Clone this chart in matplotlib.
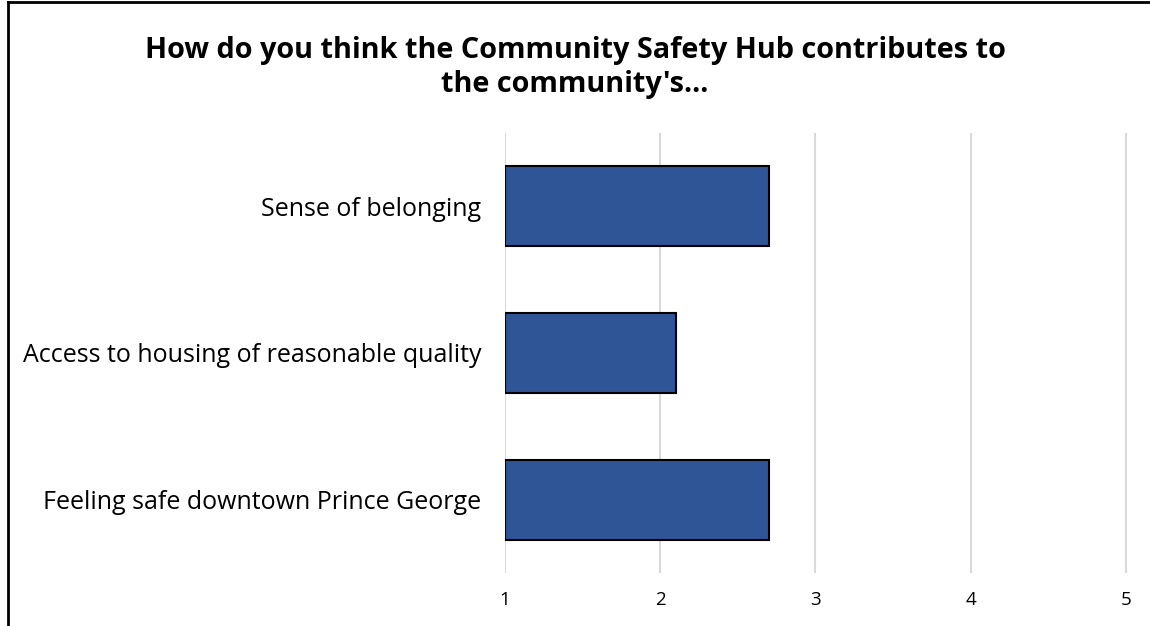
import matplotlib.pyplot as plt
from matplotlib.lines import Line2D

categories = ["Sense of belonging",
              "Access to housing of reasonable quality",
              "Feeling safe downtown Prince George"]
scores = [2.7, 2.1, 2.7]
ticks = [1, 2, 3, 4, 5]
title = "How do you think the Community Safety Hub contributes to\nthe community's..."

plt.rcParams['font.family'] = ['Open Sans', 'DejaVu Sans']

fig = plt.figure(figsize=(11.5, 6.26), dpi=100)
ax = fig.add_axes([0.4391, 0.0847, 0.5426, 0.7029])

ypos = list(range(len(categories)))
# bars start at the scale floor (1), so use left=1 and width=score-1
ax.barh(ypos, [s - 1 for s in scores], left=1, height=0.546,
        color='#2F5597', edgecolor='black', linewidth=1.5, zorder=3)

ax.set_xlim(1, 5.02)
ax.set_ylim(len(categories) - 0.5, -0.5)
ax.set_xticks(ticks)
ax.set_xticklabels([str(t) for t in ticks], fontsize=13.5)
ax.set_yticks(ypos)
ax.set_yticklabels(categories, fontsize=18)
ax.tick_params(axis='x', length=0, pad=13)
ax.tick_params(axis='y', length=0, pad=17)
ax.grid(axis='x', color='#d9d9d9', linewidth=1.5, zorder=0)
for s in ax.spines.values():
    s.set_visible(False)

fig.text(0.5, 0.942, title, ha='center', va='top', fontsize=20.8,
         fontweight='bold', linespacing=1.2)

# chart frame (only left and top edges are visible)
fig.add_artist(Line2D([8/1150, 8/1150], [0, 1 - 2/626], color='black', lw=2,
                      transform=fig.transFigure))
fig.add_artist(Line2D([8/1150, 1], [1 - 2/626, 1 - 2/626], color='black', lw=2,
                      transform=fig.transFigure))

fig.savefig('out.png', dpi=100, facecolor='white')
